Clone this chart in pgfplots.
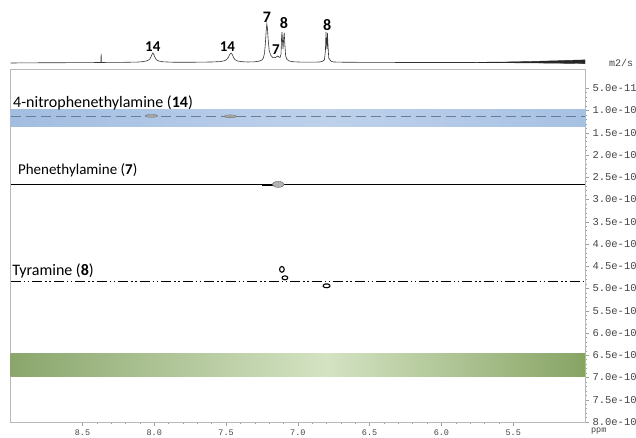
\documentclass[border=0pt]{standalone}
\usepackage{fontspec}
\setmainfont{Carlito}
\setmonofont{Liberation Mono}
\usepackage{pgfplots}
\pgfplotsset{compat=1.18}

\definecolor{blueEdge}{HTML}{A2BDE1}
\definecolor{blueMid}{HTML}{BED1EB}
\definecolor{blueEdgeR}{HTML}{A7C1E3}
\definecolor{greenEdge}{HTML}{8AA66C}
\definecolor{greenMid}{HTML}{D4E3C3}
\definecolor{greenEdgeR}{HTML}{87A464}
\definecolor{dashgrey}{HTML}{6B7D96}
\definecolor{ticktext}{HTML}{444444}

\begin{document}
\begin{tikzpicture}
\useasboundingbox (-10.7pt,-16pt) rectangle (625.3pt,422pt);

% ---- DOSY map ----
\begin{axis}[
    at={(0pt,0pt)}, anchor=south west,
    scale only axis,
    width=574.3pt, height=352.5pt,
    xmin=5, xmax=9, x dir=reverse,
    ymin=0.078, ymax=8, y dir=reverse,
    xtick={5.5,6,6.5,7,7.5,8,8.5},
    xticklabels={5.5,6.0,6.5,7.0,7.5,8.0,8.5},
    ytick={0.5,1,1.5,2,2.5,3,3.5,4,4.5,5,5.5,6,6.5,7,7.5,8},
    yticklabels={5.0e-11,1.0e-10,1.5e-10,2.0e-10,2.5e-10,3.0e-10,3.5e-10,4.0e-10,
                 4.5e-10,5.0e-10,5.5e-10,6.0e-10,6.5e-10,7.0e-10,7.5e-10,8.0e-10},
    minor x tick num=4, minor y tick num=4,
    xtick pos=bottom, ytick pos=right, yticklabel pos=right,
    tick align=outside,
    major tick length=4pt, minor tick length=2pt,
    axis line style={gray!55},
    tick style={gray!75, line width=0.5pt},
    xticklabel style={font=\fontsize{8.5}{9}\selectfont\ttfamily, text=ticktext},
    yticklabel style={font=\fontsize{10.5}{11}\selectfont\ttfamily, text=ticktext},
]
% bands
\addplot[draw=none, left color=blueEdge, right color=blueMid]
    coordinates {(9,0.966) (6.8,0.966) (6.8,1.36) (9,1.36)} -- cycle;
\addplot[draw=none, left color=blueMid, right color=blueEdgeR]
    coordinates {(6.8,0.966) (5,0.966) (5,1.36) (6.8,1.36)} -- cycle;
\addplot[draw=none, left color=greenEdge, right color=greenMid]
    coordinates {(9,6.46) (6.8,6.46) (6.8,6.98) (9,6.98)} -- cycle;
\addplot[draw=none, left color=greenMid, right color=greenEdgeR]
    coordinates {(6.8,6.46) (5,6.46) (5,6.98) (6.8,6.98)} -- cycle;

% diffusion lines
\addplot[dashgrey, line width=0.9pt, dash pattern=on 10pt off 5pt]
    coordinates {(9,1.13) (5,1.13)};
\addplot[black, line width=1.3pt]
    coordinates {(9,2.66) (5,2.66)};
\addplot[black, line width=1.2pt, dash pattern=on 10pt off 3pt on 1.5pt off 2.5pt on 1.5pt off 3pt]
    coordinates {(9,4.85) (5,4.85)};

% cross peaks
\addplot[only marks, mark=*, mark size=2pt, mark options={xscale=3.2, yscale=0.7, fill=gray!70, draw=gray!90!black}]
    coordinates {(8.02,1.12) (7.47,1.13)};
\addplot[black, line width=2.6pt]
    coordinates {(7.252,2.67) (7.16,2.67)};
\addplot[only marks, mark=*, mark size=3pt, mark options={xscale=2, yscale=1, fill=gray!60, draw=gray!80!black}]
    coordinates {(7.137,2.66)};
\addplot[only marks, mark=o, mark size=2.6pt, mark options={xscale=0.9, yscale=1.1, line width=1.1pt, draw=black}]
    coordinates {(7.111,4.57)};
\addplot[only marks, mark=o, mark size=2.2pt, mark options={xscale=1.3, yscale=0.9, line width=1.1pt, draw=black}]
    coordinates {(7.09,4.76)};
\addplot[only marks, mark=o, mark size=2.2pt, mark options={xscale=1.6, yscale=0.9, rotate=20, line width=1.1pt, draw=black}]
    coordinates {(6.80,4.94)};

% compound labels
\node[anchor=west, font=\fontsize{16}{16}\selectfont, inner sep=0pt] at (axis cs:8.984,0.83)
    {4-nitrophenethylamine (\textbf{14})};
\node[anchor=west, font=\fontsize{15}{15}\selectfont, inner sep=0pt] at (axis cs:8.95,2.34)
    {Phenethylamine (\textbf{7})};
\node[anchor=west, font=\fontsize{16}{16}\selectfont, inner sep=0pt] at (axis cs:8.99,4.60)
    {Tyramine (\textbf{8})};
\end{axis}

% ---- 1H projection ----
\begin{axis}[
    at={(0pt,354pt)}, anchor=south west,
    scale only axis,
    width=574.3pt, height=55pt,
    xmin=5, xmax=9, x dir=reverse,
    ymin=-5, ymax=50,
    axis lines=none, clip=false,
]
\addplot[black!80, line width=0.6pt] coordinates {
(9.0,0) (8.8,0.2) (8.6,0.3) (8.45,0.4) (8.372,0.5) (8.370,9.3) (8.368,0.5)
(8.3,0.6) (8.2,0.7) (8.12,0.9) (8.08,1.3) (8.05,2.2) (8.035,3.4) (8.025,5.5)
(8.017,8.2) (8.010,10) (8.003,8.5) (7.995,5.5) (7.985,3.2) (7.97,2) (7.94,1.2)
(7.88,0.8) (7.8,0.7) (7.7,0.8) (7.6,1) (7.54,1.4) (7.51,2.3) (7.495,3.5)
(7.485,5.5) (7.475,8.3) (7.465,10) (7.457,8.6) (7.448,5.5) (7.438,3.3) (7.42,2)
(7.39,1.3) (7.35,1.0) (7.3,1.2) (7.27,1.8) (7.25,3) (7.24,5) (7.232,10)
(7.226,20) (7.22,33) (7.216,39) (7.212,35) (7.207,24) (7.2,13) (7.19,8)
(7.175,5.5) (7.16,5.2) (7.15,6) (7.14,7) (7.132,6) (7.124,5.5) (7.117,9)
(7.113,27) (7.110,31) (7.107,22) (7.103,14) (7.099,24) (7.095,30) (7.091,20)
(7.085,7) (7.075,3.5) (7.06,2) (7.03,1.2) (6.98,0.9) (6.9,0.8) (6.85,1)
(6.83,1.6) (6.815,3) (6.808,12) (6.804,31) (6.801,20) (6.797,14) (6.794,30)
(6.790,18) (6.785,5) (6.77,1.8) (6.75,1.0) (6.7,0.8) (6.5,0.6) (6.2,0.5)
(6.0,0.5) (5.8,0.5) (5.7,0.6) (5.6,0.6) (5.5,0.7) (5.4,0.8) (5.3,0.9)
(5.2,1.0) (5.1,1.1) (5.0,1.2)
};
% noise towards the high-field end
\addplot[fill=black!85, draw=black!85, line width=0.4pt] coordinates {
(5.75,0.7) (5.6,0.9) (5.5,1.1) (5.4,1.4) (5.33,1.7) (5.26,2.0) (5.2,2.2)
(5.15,2.5) (5.1,2.7) (5.05,2.9) (5.0,3.1)
(5.0,-0.6) (5.05,-0.5) (5.1,-0.4) (5.15,-0.3) (5.2,-0.2) (5.26,-0.1)
(5.33,0.0) (5.4,0.1) (5.5,0.2) (5.6,0.3) (5.75,0.45)
} -- cycle;
\node[font=\fontsize{15}{15}\selectfont\bfseries] at (axis cs:8.01,16.5) {14};
\node[font=\fontsize{15}{15}\selectfont\bfseries] at (axis cs:7.49,16.5) {14};
\node[font=\fontsize{16}{16}\selectfont\bfseries] at (axis cs:7.215,46) {7};
\node[font=\fontsize{15}{15}\selectfont\bfseries] at (axis cs:7.153,13) {7};
\node[font=\fontsize{16}{16}\selectfont\bfseries] at (axis cs:7.097,40) {8};
\node[font=\fontsize{16}{16}\selectfont\bfseries] at (axis cs:6.795,38) {8};
\end{axis}

% unit labels
\node[font=\fontsize{10}{10}\selectfont\ttfamily, text=ticktext] at (610.3pt,359pt) {m2/s};
\node[font=\fontsize{8.5}{9}\selectfont\ttfamily, text=ticktext] at (588pt,-9.5pt) {ppm};
\end{tikzpicture}
\end{document}
